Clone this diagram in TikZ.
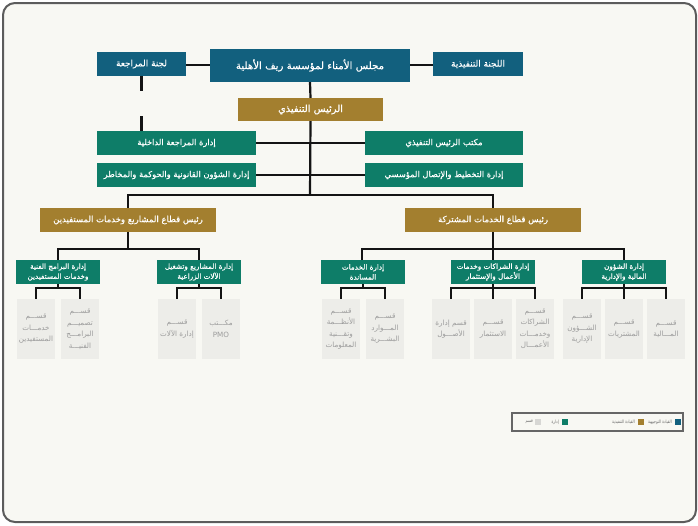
\documentclass[tikz,border=0pt]{standalone}
\usepackage{fontspec}
\usepackage{graphicx}
\TeXXeTstate=1
\newfontfamily\arabicfont[Script=Arabic]{DejaVu Sans}
\newfontfamily\arabicmed[Script=Arabic,FakeBold=0.4]{DejaVu Sans}
\newcommand\ar[1]{{\beginR #1\endR}}
\newcommand\legar[1]{\scalebox{0.78}[1]{\arabicfont\beginR #1\endR}}
\definecolor{navy}{HTML}{12607E}
\definecolor{gold}{HTML}{A37F2F}
\definecolor{teal}{HTML}{0E7D68}
\definecolor{secfill}{HTML}{EDEDE9}
\definecolor{secgray}{HTML}{9C9C9C}
\definecolor{bgc}{HTML}{F8F8F3}
\definecolor{framec}{HTML}{5C5C5C}
\definecolor{linec}{HTML}{141414}
\definecolor{legc}{HTML}{666666}
\tikzset{
  box/.style={inner sep=0pt, text=white, align=center, font=\arabicmed\fontsize{8.3}{10}\selectfont},
  navybox/.style={box, fill=navy},
  goldbox/.style={box, fill=gold},
  greenbox/.style={box, fill=teal},
  deptbox/.style={greenbox, minimum width=84pt, minimum height=24pt, font=\arabicmed\fontsize{7.2}{10}\selectfont},
  secbox/.style={inner sep=0pt, fill=secfill, text=secgray, align=center, minimum width=38pt, minimum height=60pt, font=\arabicfont\fontsize{7.2}{11.5}\selectfont},
  conn/.style={draw=linec, line width=2.2pt},
  legsq/.style={inner sep=0pt, minimum size=6pt},
  legtxt/.style={inner sep=0pt, anchor=east, text=legc, font=\arabicfont\fontsize{4.6}{6}\selectfont},
}
\begin{document}
\begin{tikzpicture}[x=1pt,y=-1pt]
\useasboundingbox (0,0) rectangle (698,525);
\draw[draw=framec, line width=2pt, fill=bgc, rounded corners=12pt] (3,3) rectangle (696,522);

% top level
\node[navybox, minimum width=89pt, minimum height=24pt, font=\arabicmed\fontsize{8.9}{10}\selectfont] (ac) at (141.5,64) {\ar{لجنة المراجعة}};
\node[navybox, minimum width=200pt, minimum height=33pt, font=\arabicmed\fontsize{10.2}{12}\selectfont] (board) at (310,65.5) {\ar{مجلس الأمناء لمؤسسة ريف الأهلية}};
\node[navybox, minimum width=90pt, minimum height=24pt, font=\arabicmed\fontsize{8.9}{10}\selectfont] (ec) at (478,64) {\ar{اللجنة التنفيذية}};
\node[goldbox, minimum width=145pt, minimum height=23pt, font=\arabicmed\fontsize{9.8}{11}\selectfont] (ceo) at (310.5,109.5) {\ar{الرئيس التنفيذي}};

\node[greenbox, minimum width=159pt, minimum height=24pt] (ia) at (176.5,143) {\ar{إدارة المراجعة الداخلية}};
\node[greenbox, minimum width=158pt, minimum height=24pt] (co) at (444,143) {\ar{مكتب الرئيس التنفيذي}};
\node[greenbox, minimum width=159pt, minimum height=24pt] (lg) at (176.5,175) {\ar{إدارة الشؤون القانونية والحوكمة والمخاطر}};
\node[greenbox, minimum width=158pt, minimum height=24pt] (pl) at (444,175) {\ar{إدارة التخطيط والإتصال المؤسسي}};

\node[goldbox, minimum width=176pt, minimum height=24pt, font=\arabicmed\fontsize{8.5}{10}\selectfont] (s1) at (128,220) {\ar{رئيس قطاع المشاريع وخدمات المستفيدين}};
\node[goldbox, minimum width=176pt, minimum height=24pt, font=\arabicmed\fontsize{8.5}{10}\selectfont] (s2) at (493,220) {\ar{رئيس قطاع الخدمات المشتركة}};

% departments
\node[deptbox] (d1) at (58,272) {\ar{إدارة البرامج الفنية}\\\ar{وخدمات المستفيدين}};
\node[deptbox] (d2) at (199,272) {\ar{إدارة المشاريع وتشغيل}\\\ar{الآلات الزراعية}};
\node[deptbox] (d3) at (363,272) {\ar{إدارة الخدمات}\\\ar{المساندة}};
\node[deptbox] (d4) at (493,272) {\ar{إدارة الشراكات وخدمات}\\\ar{الأعمال والإستثمار}};
\node[deptbox] (d5) at (624,272) {\ar{إدارة الشؤون}\\\ar{المالية والإدارية}};

% sections
\node[secbox] (c1) at (36,329) {\ar{قســـم}\\\ar{خدمـــات}\\\ar{المستفيدين}};
\node[secbox] (c2) at (80,329) {\ar{قســـم}\\\ar{تصميـــم}\\\ar{البرامـــج}\\\ar{الفنيـــة}};
\node[secbox] (c3) at (177,329) {\ar{قســـم}\\\ar{إدارة الآلات}};
\node[secbox] (c4) at (221,329) {\ar{مكـــتب}\\PMO};
\node[secbox] (c5) at (341,329) {\ar{قســـم}\\\ar{الأنظـــمة}\\\ar{وتقـــنية}\\\ar{المعلومات}};
\node[secbox] (c6) at (385,329) {\ar{قســـم}\\\ar{المـــوارد}\\\ar{البشـــرية}};
\node[secbox] (c7) at (451,329) {\ar{قسم إدارة}\\\ar{الأصـــول}};
\node[secbox] (c8) at (493,329) {\ar{قســـم}\\\ar{الاستثمار}};
\node[secbox] (c9) at (535,329) {\ar{قســـم}\\\ar{الشراكات}\\\ar{وخدمـــات}\\\ar{الأعمـــال}};
\node[secbox] (c10) at (582,329) {\ar{قســـم}\\\ar{الشـــؤون}\\\ar{الإدارية}};
\node[secbox] (c11) at (624,329) {\ar{قســـم}\\\ar{المشتريات}};
\node[secbox] (c12) at (666,329) {\ar{قســـم}\\\ar{المـــالية}};

% connectors
\draw[conn] (ac.east |- 0,65) -- (board.west |- 0,65);
\draw[conn] (board.east |- 0,65) -- (ec.west |- 0,65);
\draw[conn] (board.south) -- (ceo.north);
\draw[conn] (ac.south) -- ++(0,15);
\draw[conn] (ia.north -| ac.south) -- ++(0,-15);
\coordinate (bar) at (310,195);
\draw[conn] (ceo.south) -- (bar);
\draw[conn] (ia.east) -- (co.west);
\draw[conn] (lg.east) -- (pl.west);
\draw[conn] (s1.north) |- (bar) -| (s2.north);

\coordinate (b1) at (128,249);
\coordinate (b2) at (493,249);
\draw[conn] (s1.south) -- (b1);
\draw[conn] (d1.north) |- (b1) -| (d2.north);
\draw[conn] (s2.south) -- (d4.north);
\draw[conn] (d3.north -| 362,0) |- (b2) -| (d5.north);

\coordinate (k1) at (58,288);
\coordinate (k2) at (199,288);
\coordinate (k3) at (363,288);
\coordinate (k4) at (493,288);
\coordinate (k5) at (624,288);
\draw[conn] (d1.south) -- (k1);
\draw[conn] (c1.north) |- (k1) -| (c2.north);
\draw[conn] (d2.south) -- (k2);
\draw[conn] (c3.north) |- (k2) -| (c4.north);
\draw[conn] (d3.south) -- (k3);
\draw[conn] (c5.north) |- (k3) -| (c6.north);
\draw[conn] (d4.south) -- (c8.north);
\draw[conn] (c7.north) |- (k4) -| (c9.north);
\draw[conn] (d5.south) -- (c11.north);
\draw[conn] (c10.north) |- (k5) -| (c12.north);

% legend
\draw[draw=legc, line width=1.3pt] (512,413) rectangle (683,431);
\node[legsq, fill=navy] (l1) at (677.5,422) {};
\node[legtxt] (t1) at (672,422) {\legar{القيادة التوجيهية}};
\node[legsq, fill=gold] (l2) at (640.5,422) {};
\node[legtxt] (t2) at (635,422) {\legar{القيادة التنفيذية}};
\node[legsq, fill=teal] (l3) at (564.5,422) {};
\node[legtxt] (t3) at (559,422) {\legar{إدارة}};
\node[legsq, fill=secfill!80!gray] (l4) at (538,422) {};
\node[legtxt] (t4) at (533,422) {\legar{قسم}};
\end{tikzpicture}
\end{document}
